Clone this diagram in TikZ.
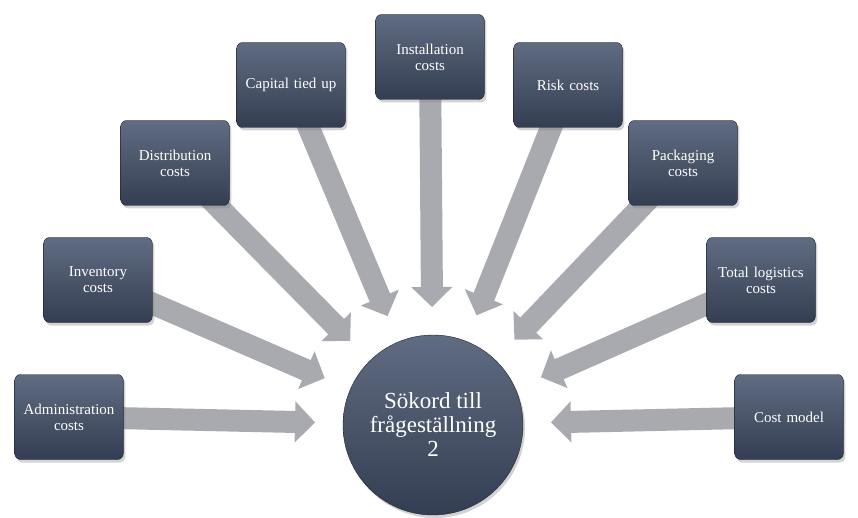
\documentclass[tikz,border=0pt]{standalone}
\usepackage{fontspec}
\setmainfont{Liberation Serif}
\usetikzlibrary{calc,arrows.meta,shadows}
\definecolor{boxtop}{RGB}{96,108,130}
\definecolor{boxbot}{RGB}{52,62,82}
\definecolor{arrowc}{RGB}{168,170,176}
\tikzset{
  box/.style={rectangle,rounded corners=6pt,minimum width=107pt,minimum height=85pt,
    top color=boxtop,bottom color=boxbot,draw=boxbot!60!black,line width=0.4pt,
    text=white,font=\fontsize{15}{16}\selectfont,align=center,text width=102pt,
    drop shadow={shadow xshift=2pt,shadow yshift=-3pt,opacity=0.35}},
  hub/.style={circle,minimum size=180pt,top color=boxtop,bottom color=boxbot,
    draw=boxbot!60!black,text=white,font=\fontsize{23}{24}\selectfont,align=center,
    drop shadow={shadow xshift=2pt,shadow yshift=-3pt,opacity=0.35}},
  barrow/.style={draw=arrowc,line width=22pt,-{Triangle[length=20pt,width=40pt]}}
}
\begin{document}
\begin{tikzpicture}[x=1pt,y=-1pt]
\useasboundingbox (0,0) rectangle (858,518);
\coordinate (c) at (433,425);
\coordinate (pa) at (69,417);
\coordinate (pb) at (98,280);
\coordinate (pc) at (175,163);
\coordinate (pd) at (291,85);
\coordinate (pe) at (430,57);
\coordinate (pf) at (568,85);
\coordinate (pg) at (683,163);
\coordinate (ph) at (761,280);
\coordinate (pi) at (789,417);
\foreach \q in {pa,pb,pc,pd,pe,pf,pg,ph,pi}{
  \coordinate (t\q) at ($(c)!118pt!(\q)$);
  \draw[barrow] (\q) -- (t\q);
}
\node[hub] (hub) at (c) {Sökord till\\frågeställning\\2};
\node[box] (a) at (pa) {Administration costs};
\node[box] (b) at (pb) {Inventory\\costs};
\node[box] (cc) at (pc) {Distribution\\costs};
\node[box] (d) at (pd) {Capital tied up};
\node[box] (e) at (pe) {Installation\\costs};
\node[box] (f) at (pf) {Risk costs};
\node[box] (g) at (pg) {Packaging\\costs};
\node[box] (h) at (ph) {Total logistics\\costs};
\node[box] (i) at (pi) {Cost model};
\end{tikzpicture}
\end{document}
